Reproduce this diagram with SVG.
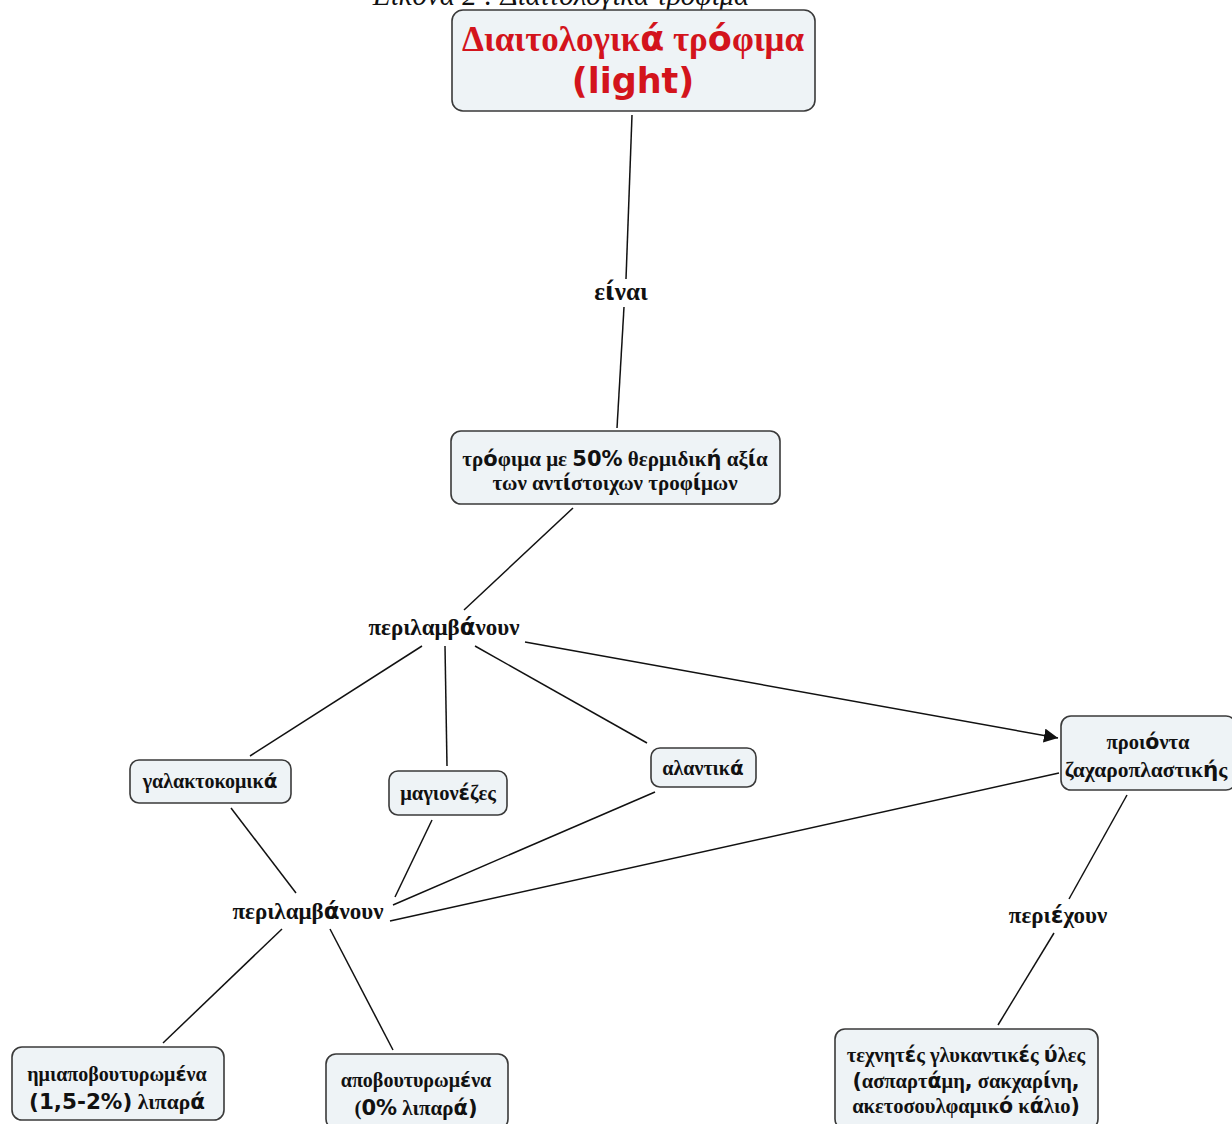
<svg xmlns="http://www.w3.org/2000/svg" width="1232" height="1124" viewBox="0 0 1232 1124">
<style>
.node rect{fill:#eef3f6;stroke:#3a3a3a;stroke-width:1.6}
text{font-family:"Liberation Serif","DejaVu Serif",serif;font-weight:bold;fill:#111;text-anchor:middle}
.s{font-family:"DejaVu Sans","Verdana",sans-serif}
.red{fill:#d3141c}
.cap{font-style:italic;font-weight:normal;font-size:29px}
#edges line{stroke:#111;stroke-width:1.5}
</style>
<defs>
<marker id="arr" viewBox="0 0 10 10" refX="10" refY="5" markerWidth="14" markerHeight="14" markerUnits="userSpaceOnUse" orient="auto"><path d="M0,0L10,5L0,10z" fill="#111"/></marker>
</defs>
<rect width="1232" height="1124" fill="#fff"/>
<text class="cap" x="561" y="5">Εικόνα 2 : Διαιτολογικά τρόφιμα</text>
<g id="edges">
<line x1="632" y1="115" x2="626" y2="279"/>
<line x1="624" y1="307" x2="617" y2="428"/>
<line x1="573" y1="508" x2="464" y2="610"/>
<line x1="422" y1="646" x2="250" y2="756"/>
<line x1="445" y1="646" x2="447" y2="766"/>
<line x1="475" y1="646" x2="647" y2="743"/>
<line x1="525" y1="642" x2="1058" y2="738" marker-end="url(#arr)"/>
<line x1="231" y1="808" x2="296" y2="893"/>
<line x1="432" y1="820" x2="395" y2="897"/>
<line x1="655" y1="792" x2="393" y2="905"/>
<line x1="1059" y1="773" x2="390" y2="921"/>
<line x1="282" y1="929" x2="163" y2="1043"/>
<line x1="330" y1="929" x2="393" y2="1050"/>
<line x1="1127" y1="795" x2="1069" y2="899"/>
<line x1="1054" y1="933" x2="998" y2="1025"/>
</g>
<g id="n-top" class="node">
<rect x="452" y="10" width="363" height="101" rx="11"/>
<text class="red" x="633" y="51" font-size="35">Διαιτολογικ<tspan class="s">ά</tspan> τρ<tspan class="s">ό</tspan>φιμα</text>
<text class="red s" x="633" y="93" font-size="35">(light)</text>
</g>
<g id="l-einai"><text x="621" y="300" font-size="25">ε<tspan class="s">ί</tspan>ναι</text></g>
<g id="n-trofima" class="node">
<rect x="451" y="431" width="329" height="73" rx="10"/>
<text x="615" y="466" font-size="21">τρ<tspan class="s">ό</tspan>φιμα με <tspan class="s">50%</tspan> θερμιδικ<tspan class="s">ή</tspan> αξ<tspan class="s">ί</tspan>α</text>
<text x="615" y="490" font-size="21">των αντ<tspan class="s">ί</tspan>στοιχων τροφ<tspan class="s">ί</tspan>μων</text>
</g>
<g id="l-perilamv1"><text x="444" y="635" font-size="23">περιλαμβ<tspan class="s">ά</tspan>νουν</text></g>
<g id="n-galakto" class="node">
<rect x="130" y="760" width="161" height="43" rx="9"/>
<text x="210" y="788" font-size="20">γαλακτοκομικ<tspan class="s">ά</tspan></text>
</g>
<g id="n-magio" class="node">
<rect x="389" y="771" width="118" height="44" rx="9"/>
<text x="448" y="800" font-size="20.5">μαγιον<tspan class="s">έ</tspan>ζες</text>
</g>
<g id="n-alant" class="node">
<rect x="651" y="748" width="105" height="39" rx="9"/>
<text x="703" y="775" font-size="20">αλαντικ<tspan class="s">ά</tspan></text>
</g>
<g id="n-zaxar" class="node">
<rect x="1061" y="716" width="175" height="74" rx="10"/>
<text x="1148" y="749" font-size="20.5">προι<tspan class="s">ό</tspan>ντα</text>
<text x="1146" y="777" font-size="21.5">ζαχαροπλαστικ<tspan class="s">ή</tspan>ς</text>
</g>
<g id="l-perilamv2"><text x="308" y="919" font-size="23">περιλαμβ<tspan class="s">ά</tspan>νουν</text></g>
<g id="l-periex"><text x="1058" y="923" font-size="23">περι<tspan class="s">έ</tspan>χουν</text></g>
<g id="n-hmi" class="node">
<rect x="12" y="1047" width="212" height="73" rx="10"/>
<text x="117" y="1081" font-size="20">ημιαποβουτυρωμ<tspan class="s">έ</tspan>να</text>
<text x="117" y="1109" font-size="21.5"><tspan class="s">(1,5-2%)</tspan> λιπαρ<tspan class="s">ά</tspan></text>
</g>
<g id="n-apo" class="node">
<rect x="326" y="1054" width="182" height="75" rx="10"/>
<text x="416" y="1087" font-size="20">αποβουτυρωμ<tspan class="s">έ</tspan>να</text>
<text x="416" y="1115" font-size="21">(<tspan class="s">0%</tspan> λιπαρ<tspan class="s">ά)</tspan></text>
</g>
<g id="n-texn" class="node">
<rect x="835" y="1029" width="263" height="100" rx="10"/>
<text x="966" y="1062" font-size="20.5">τεχνητ<tspan class="s">έ</tspan>ς γλυκαντικ<tspan class="s">έ</tspan>ς <tspan class="s">ύ</tspan>λες</text>
<text x="966" y="1088" font-size="20.5"><tspan class="s">(</tspan>ασπαρτ<tspan class="s">ά</tspan>μη<tspan class="s">,</tspan> σακχαρ<tspan class="s">ί</tspan>νη<tspan class="s">,</tspan></text>
<text x="966" y="1113" font-size="20.5">ακετοσουλφαμικ<tspan class="s">ό</tspan> κ<tspan class="s">ά</tspan>λιο<tspan class="s">)</tspan></text>
</g>
</svg>
